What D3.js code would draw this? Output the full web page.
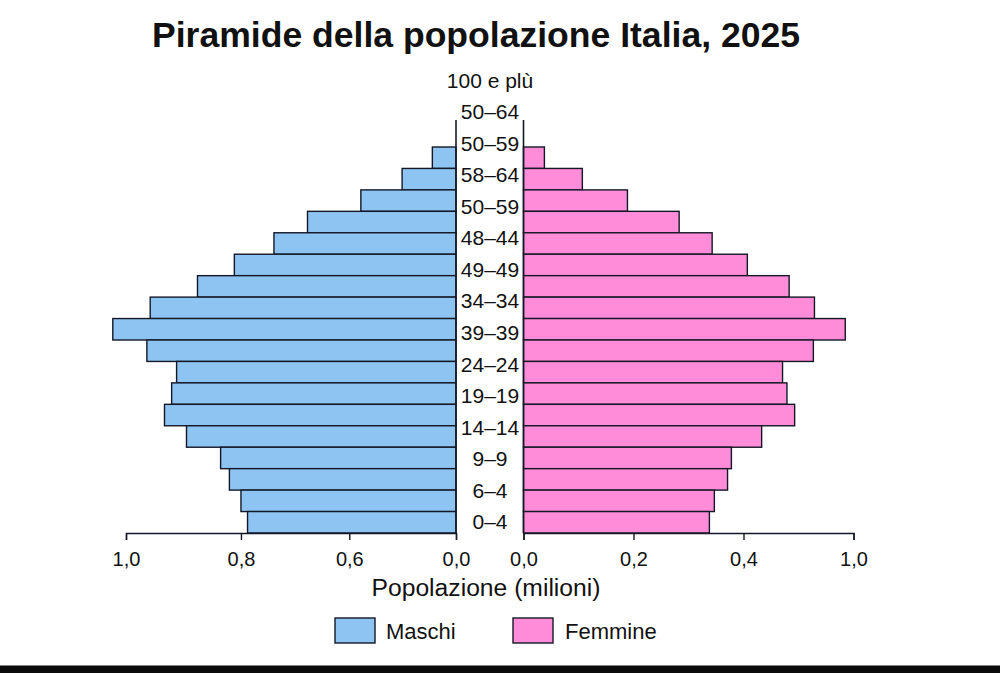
<!DOCTYPE html>
<html><head><meta charset="utf-8">
<script src="https://cdn.jsdelivr.net/npm/d3@7"></script>
<style>html,body{margin:0;padding:0;background:#fff;}svg{display:block;}</style>
</head><body>
<svg id="chart" width="1000" height="673"></svg>
<script>
// ---- data ----
const barGroups = ["85-89","80-84","75-79","70-74","65-69","60-64","55-59","50-54","45-49","40-44","35-39","30-34","25-29","20-24","15-19","10-14","5-9","0-4"];
const maschi  = [0.043,0.098,0.173,0.270,0.331,0.403,0.470,0.556,0.624,0.562,0.508,0.517,0.530,0.490,0.428,0.412,0.391,0.379];
const femmine = [0.038,0.107,0.189,0.283,0.343,0.407,0.483,0.529,0.585,0.527,0.471,0.479,0.493,0.433,0.378,0.371,0.347,0.338];
const ageLabels = ["100 e plù","50–64","50–59","58–64","50–59","48–44","49–49","34–34","39–39","24–24","19–19","14–14","9–9","6–4","0–4"];
const leftTickValues = [0, 0.194, 0.391, 0.6];
const leftTickLabels = ["0,0","0,6","0,8","1,0"];
const rightTickValues = [0, 0.2, 0.4, 0.6];
const rightTickLabels = ["0,0","0,2","0,4","1,0"];
const title = "Piramide della popolazione Italia, 2025";
const xTitle = "Popolazione (milioni)";
const seriesNames = ["Maschi","Femmine"];

// ---- layout ----
const svg = d3.select("#chart");
const font = "'Liberation Sans', Arial, sans-serif";
const maleColor = "#8ec4f2", femaleColor = "#ff8cd9", stroke = "#141826";
const xL = d3.scaleLinear().domain([0, 0.6]).range([456, 126]);
const xR = d3.scaleLinear().domain([0, 0.6]).range([523.5, 853.5]);
const y = d3.scaleBand().domain(barGroups).range([147, 533]).paddingInner(0);
const yLab = d3.scalePoint().domain(d3.range(ageLabels.length)).range([80, 521.7]);

// title
svg.append("text").attr("x", 476).attr("y", 47).attr("text-anchor","middle")
  .attr("font-family", font).attr("font-weight","bold").attr("font-size", 35).attr("fill","#111")
  .attr("textLength", 648).attr("lengthAdjust","spacingAndGlyphs")
  .text(title);

// bars
svg.append("g").selectAll("rect").data(barGroups).join("rect")
  .attr("x", (d,i) => xL(maschi[i])).attr("width", (d,i) => xL(0) - xL(maschi[i]))
  .attr("y", d => y(d)).attr("height", y.bandwidth())
  .attr("fill", maleColor).attr("stroke", stroke).attr("stroke-width", 1.4);
svg.append("g").selectAll("rect").data(barGroups).join("rect")
  .attr("x", xR(0)).attr("width", (d,i) => xR(femmine[i]) - xR(0))
  .attr("y", d => y(d)).attr("height", y.bandwidth())
  .attr("fill", femaleColor).attr("stroke", stroke).attr("stroke-width", 1.4);

// central vertical lines
[xL(0), xR(0)].forEach(xx => svg.append("line").attr("x1", xx).attr("x2", xx)
  .attr("y1", 120).attr("y2", 533).attr("stroke", stroke).attr("stroke-width", 1.6));

// x axes
const axL = d3.axisBottom(xL).tickValues(leftTickValues).tickSize(7).tickPadding(12)
  .tickFormat((d,i) => leftTickLabels[i]);
const axR = d3.axisBottom(xR).tickValues(rightTickValues).tickSize(7).tickPadding(12)
  .tickFormat((d,i) => rightTickLabels[i]);
[axL, axR].forEach(ax => {
  const g = svg.append("g").attr("transform","translate(0,533)").call(ax);
  g.select(".domain").attr("stroke", stroke).attr("stroke-width", 1.4);
  g.selectAll(".tick line").attr("stroke", stroke).attr("stroke-width", 1.4);
  g.selectAll(".tick text").attr("font-family", font).attr("font-size", 20).attr("fill","#111");
});

// age labels
svg.append("g").selectAll("text").data(ageLabels).join("text")
  .attr("x", 490).attr("y", (d,i) => yLab(i)).attr("dy","0.36em").attr("text-anchor","middle")
  .attr("font-family", font).attr("font-size", 21).attr("fill","#111").text(d => d);

// x title
svg.append("text").attr("x", 486).attr("y", 596).attr("text-anchor","middle")
  .attr("font-family", font).attr("font-size", 23).attr("fill","#111")
  .attr("textLength", 229).attr("lengthAdjust","spacingAndGlyphs").text(xTitle);

// legend
const leg = [{x:335, tx:386, c:maleColor},{x:513, tx:565, c:femaleColor}];
leg.forEach((l,i) => {
  svg.append("rect").attr("x", l.x).attr("y", 618).attr("width", 40).attr("height", 25)
    .attr("fill", l.c).attr("stroke", stroke).attr("stroke-width", 1.4);
  svg.append("text").attr("x", l.tx).attr("y", 639)
    .attr("font-family", font).attr("font-size", 22).attr("fill","#111").text(seriesNames[i]);
});

// bottom black band
svg.append("rect").attr("x",0).attr("y",665.5).attr("width",1000).attr("height",8).attr("fill","#0a0a0a");
</script>
</body></html>
